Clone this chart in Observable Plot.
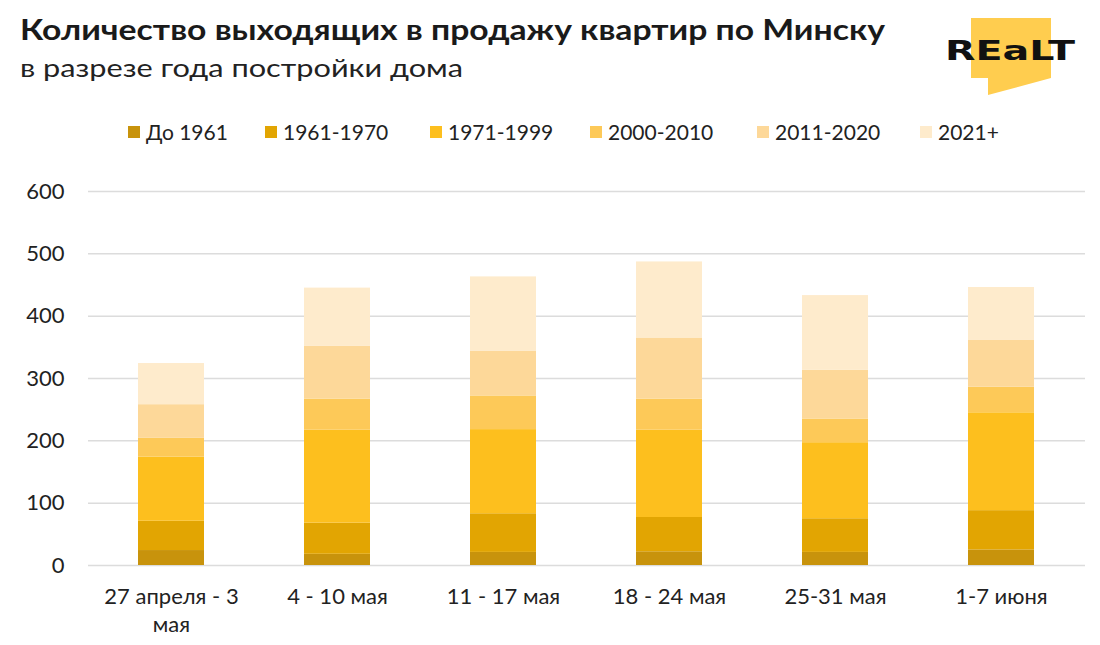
<!DOCTYPE html>
<html>
<head>
<meta charset="utf-8">
<script src="https://cdn.jsdelivr.net/npm/d3@7"></script>
<script src="https://cdn.jsdelivr.net/npm/@observablehq/plot@0.6"></script>
<style>
  html, body { margin: 0; padding: 0; background: #fff; }
  body { width: 1100px; height: 645px; position: relative; overflow: hidden; font-family: Lato, "Open Sans", sans-serif; color: #1a1a1a; }
  #title { position: absolute; left: 20px; top: 14px; font-size: 29px; font-weight: 700; line-height: 1; white-space: nowrap; transform-origin: 0 0; }
  #subtitle { position: absolute; left: 20px; top: 55px; font-size: 25px; font-weight: 400; line-height: 1; white-space: nowrap; color: #222; transform-origin: 0 0; }
  #legend { position: absolute; left: 0; top: 119px; width: 1100px; height: 26px; font-size: 21px; line-height: 26px; color: #222; }
  .item { position: absolute; top: 0; display: flex; align-items: center; gap: 6px; white-space: nowrap; }
  .sw { width: 12px; height: 12px; display: inline-block; }
  #chart { position: absolute; left: 0; top: 165px; }
  #logo { position: absolute; left: 940px; top: 0; }
</style>
</head>
<body>
<div id="title">Количество выходящих в продажу квартир по Минску</div>
<div id="subtitle">в разрезе года постройки дома</div>
<svg id="logo" width="150" height="100" viewBox="940 0 150 100">
  <polygon points="971,18 1051,18 1051,78 988,95 988,78 971,78" fill="#FFCD4F"/>
  <text x="945" y="60" font-family="DejaVu Sans, sans-serif" font-weight="700" font-size="26" textLength="130" lengthAdjust="spacingAndGlyphs" fill="#111">REaLT</text>
</svg>
<div id="legend"></div>
<div id="chart"></div>
<script>
const weeks = ["27 апреля - 3\nмая", "4 - 10 мая", "11 - 17 мая", "18 - 24 мая", "25-31 мая", "1-7 июня"];
const series = ["До 1961", "1961-1970", "1971-1999", "2000-2010", "2011-2020", "2021+"];
const colors = ["#C8930C", "#E2A502", "#FDBF1E", "#FDC958", "#FDD899", "#FEEBCC"];
const before1961 = [24, 18, 21, 22, 21, 25];
const y1961_1970 = [47, 50, 62, 55, 54, 63];
const y1971_1999 = [103, 149, 135, 140, 122, 157];
const y2000_2010 = [30, 50, 54, 50, 38, 41];
const y2011_2020 = [54, 85, 72, 98, 78, 75];
const y2021plus = [66, 93, 119, 122, 120, 85];
const yTicks = [0, 100, 200, 300, 400, 500, 600];

const valuesBySeries = [before1961, y1961_1970, y1971_1999, y2000_2010, y2011_2020, y2021plus];
const data = [];
series.forEach((s, i) => weeks.forEach((w, j) => data.push({week: w, series: s, value: valuesBySeries[i][j]})));

// fit header text widths to the reference
function fitWidth(id, target) {
  const el = document.getElementById(id);
  const w = el.getBoundingClientRect().width;
  el.style.transform = `scaleX(${target / w})`;
}
fitWidth("title", 865);
fitWidth("subtitle", 443);

const legendX = [128, 265, 430, 590, 757, 920];
const legend = document.getElementById("legend");
series.forEach((s, i) => {
  const it = document.createElement("div");
  it.className = "item";
  it.style.left = legendX[i] + "px";
  it.innerHTML = `<span class="sw" style="background:${colors[i]}"></span><span>${s}</span>`;
  legend.appendChild(it);
});

const chart = Plot.plot({
  width: 1100,
  height: 480,
  marginTop: 26,
  marginBottom: 80,
  marginLeft: 88,
  marginRight: 15,
  style: {fontFamily: "Lato, 'Open Sans', sans-serif", fontSize: "22px", color: "#222", background: "#fff"},
  x: {domain: weeks, paddingInner: 0.6, paddingOuter: 0.3, label: null},
  y: {domain: [0, 600], label: null},
  color: {domain: series, range: colors},
  marks: [
    Plot.gridY(yTicks, {stroke: "#dcdcdc", strokeOpacity: 1, strokeWidth: 1.5}),
    Plot.barY(data, {x: "week", y: "value", fill: "series"}),
    Plot.axisY(yTicks, {tickSize: 0, tickPadding: 24, fontSize: 22, label: null}),
    Plot.axisX({tickSize: 0, tickPadding: 18, fontSize: 22, lineHeight: 1.3, label: null})
  ]
});
document.getElementById("chart").appendChild(chart);
</script>
</body>
</html>
